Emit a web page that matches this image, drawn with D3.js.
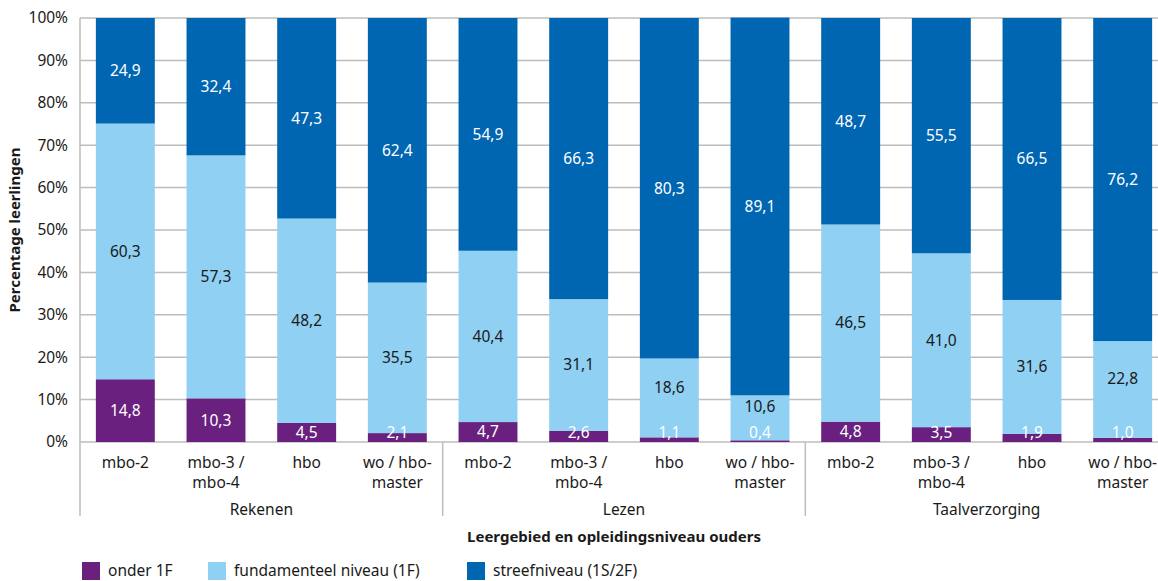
<!DOCTYPE html>
<html>
<head>
<meta charset="utf-8">
<script src="https://cdn.jsdelivr.net/npm/d3@7"></script>
<style>
  body { margin: 0; background: #fff; }
  svg { font-family: "Noto Sans", sans-serif; }
</style>
</head>
<body>
<svg id="chart" width="1158" height="581"></svg>
<script>
const groups = ['Rekenen', 'Lezen', 'Taalverzorging']
const levels = [['mbo-2'], ['mbo-3 /', 'mbo-4'], ['hbo'], ['wo / hbo-', 'master']]
const series = ['onder 1F', 'fundamenteel niveau (1F)', 'streefniveau (1S/2F)']
const onder = [14.8, 10.3, 4.5, 2.1, 4.7, 2.6, 1.1, 0.4, 4.8, 3.5, 1.9, 1.0]
const fundamenteel = [60.3, 57.3, 48.2, 35.5, 40.4, 31.1, 18.6, 10.6, 46.5, 41.0, 31.6, 22.8]
const streef = [24.9, 32.4, 47.3, 62.4, 54.9, 66.3, 80.3, 89.1, 48.7, 55.5, 66.5, 76.2]
const yTicks = [0, 10, 20, 30, 40, 50, 60, 70, 80, 90, 100]

const colors = ['#69207e', '#8fd0f3', '#0066b2']
const labelColors = ['#fff', '#1a1a1a', '#fff']

const margin = { top: 18, left: 80, bottom: 139 }
const svg = d3.select('#chart')
const plotRight = 1168
const y0 = 581 - margin.bottom

const rows = onder.map((d, i) => ({
	idx: i,
	group: groups[Math.floor(i / 4)],
	level: levels[i % 4],
	vals: [d, fundamenteel[i], streef[i]]
}))

const x = d3.scaleBand()
	.domain(d3.range(rows.length))
	.range([margin.left, plotRight])
	.paddingInner(0.35)
	.paddingOuter(0.175)

const y = d3.scaleLinear().domain([0, 100]).range([y0, margin.top])

// grid
svg.append('g')
	.selectAll('line')
	.data(yTicks)
	.join('line')
	.attr('x1', margin.left)
	.attr('x2', plotRight)
	.attr('y1', d => y(d))
	.attr('y2', d => y(d))
	.attr('stroke', '#bdbdbd')
	.attr('stroke-width', 1.5)

svg.append('g')
	.selectAll('text')
	.data(yTicks)
	.join('text')
	.attr('x', 68)
	.attr('y', d => y(d))
	.attr('dy', '0.35em')
	.attr('text-anchor', 'end')
	.attr('font-size', 15.5)
	.attr('fill', '#1a1a1a')
	.text(d => d + '%')

// stacked bars
const stackData = rows.map(r => {
	let acc = 0
	return r.vals.map((v, k) => {
		const s = { row: r.idx, k, v, lo: acc, hi: acc + v }
		acc += v
		return s
	})
}).flat()

// label position: centred, but the bottom label sits at least 9px above the
// baseline and a middle label just above it moves up out of its way
const bottomLimit = y0 - 9
function labelY(d) {
	const c = y((d.lo + d.hi) / 2)
	if (d.k === 0) return Math.min(c, bottomLimit)
	if (d.k === 1 && bottomLimit - c < 50) return (y(d.hi) + y0 - 25) / 2
	return c
}

svg.append('g')
	.selectAll('rect')
	.data(stackData)
	.join('rect')
	.attr('x', d => x(d.row))
	.attr('width', x.bandwidth())
	.attr('y', d => y(d.hi))
	.attr('height', d => y(d.lo) - y(d.hi))
	.attr('fill', d => colors[d.k])

svg.append('g')
	.selectAll('text')
	.data(stackData)
	.join('text')
	.attr('x', d => x(d.row) + x.bandwidth() / 2)
	.attr('y', labelY)
	.attr('dy', '0.35em')
	.attr('text-anchor', 'middle')
	.attr('font-size', 15.5)
	.attr('fill', d => labelColors[d.k])
	.text(d => d3.format('.1f')(d.v).replace('.', ','))

// axes lines
svg.append('line')
	.attr('x1', margin.left).attr('x2', margin.left)
	.attr('y1', margin.top).attr('y2', 516)
	.attr('stroke', '#bdbdbd').attr('stroke-width', 1.5)

svg.append('g')
	.selectAll('line')
	.data([4, 8])
	.join('line')
	.attr('x1', d => x(d) - x.step() * x.paddingInner() / 2)
	.attr('x2', d => x(d) - x.step() * x.paddingInner() / 2)
	.attr('y1', y0)
	.attr('y2', 516)
	.attr('stroke', '#bdbdbd')
	.attr('stroke-width', 1.5)

// category labels
const catLabels = svg.append('g')
	.selectAll('text')
	.data(rows)
	.join('text')
	.attr('text-anchor', 'middle')
	.attr('font-size', 15.5)
	.attr('fill', '#1a1a1a')
catLabels.selectAll('tspan')
	.data(d => d.level.map(t => ({ t, cx: x(d.idx) + x.bandwidth() / 2 })))
	.join('tspan')
	.attr('x', d => d.cx)
	.attr('y', (d, i) => 468 + i * 20)
	.text(d => d.t)

svg.append('g')
	.selectAll('text')
	.data(groups)
	.join('text')
	.attr('x', (d, i) => (x(i * 4) + x(i * 4 + 3) + x.bandwidth()) / 2)
	.attr('y', 515)
	.attr('text-anchor', 'middle')
	.attr('font-size', 15.5)
	.attr('fill', '#1a1a1a')
	.text(d => d)

svg.append('text')
	.attr('x', (margin.left + plotRight) / 2 - 10)
	.attr('y', 542)
	.attr('text-anchor', 'middle')
	.attr('font-size', 15)
	.attr('font-weight', 'bold')
	.attr('fill', '#1a1a1a')
	.text('Leergebied en opleidingsniveau ouders')

svg.append('text')
	.attr('transform', `translate(20, ${y(50)}) rotate(-90)`)
	.attr('text-anchor', 'middle')
	.attr('font-size', 15)
	.attr('font-weight', 'bold')
	.attr('fill', '#1a1a1a')
	.text('Percentage leerlingen')

// legend
const legendX = [82, 208, 467]
const legend = svg.append('g')
	.selectAll('g')
	.data(series)
	.join('g')
	.attr('transform', (d, i) => `translate(${legendX[i]}, 562)`)
legend.append('rect')
	.attr('width', 18)
	.attr('height', 18)
	.attr('fill', (d, i) => colors[i])
legend.append('text')
	.attr('x', 26)
	.attr('y', 9)
	.attr('dy', '0.35em')
	.attr('font-size', 15.5)
	.attr('fill', '#1a1a1a')
	.text(d => d)
</script>
</body>
</html>
